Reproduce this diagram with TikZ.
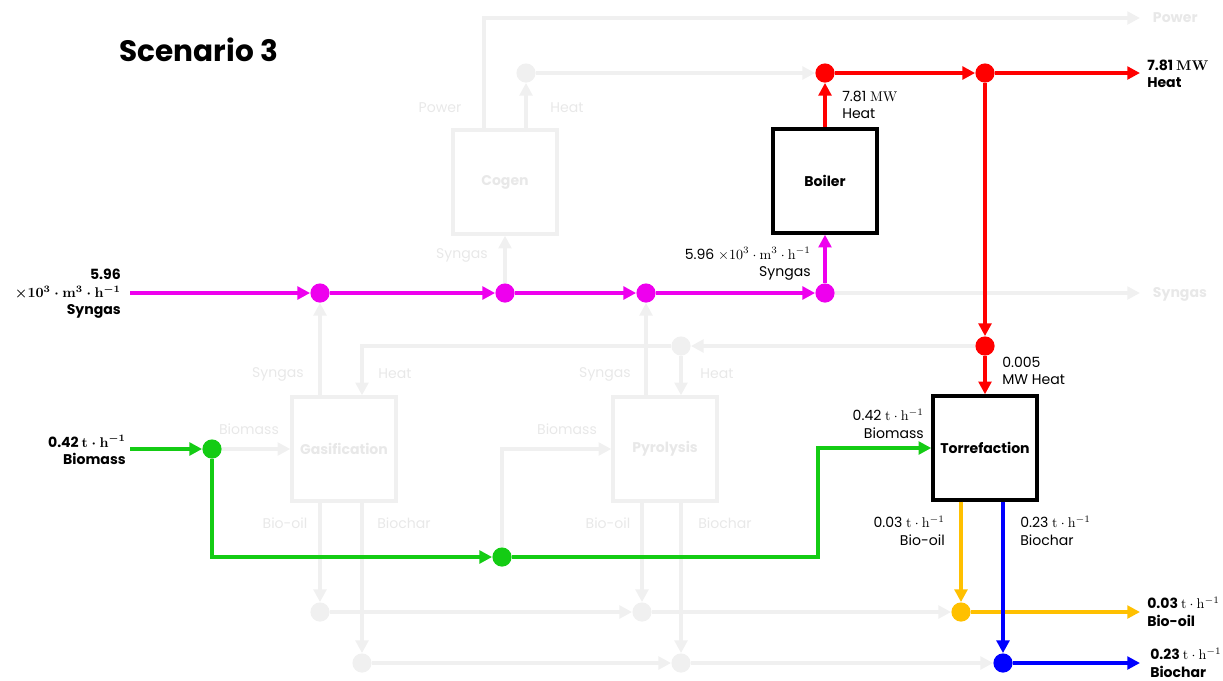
\documentclass[tikz,border=0pt]{standalone}
\usepackage{amsmath}
\usepackage[no-math]{fontspec}
\setmainfont{Poppins}
\usetikzlibrary{arrows.meta}
\definecolor{faded}{RGB}{240,240,240}
\definecolor{fadetext}{RGB}{232,232,232}
\definecolor{syngasc}{RGB}{238,0,238}
\definecolor{heatc}{RGB}{255,0,0}
\definecolor{biomassc}{RGB}{20,204,20}
\definecolor{biooilc}{RGB}{255,192,0}
\definecolor{biocharc}{RGB}{0,0,255}
\newcommand{\tph}{\ensuremath{\mathrm{t}\cdot\mathrm{h}^{-1}}}

\begin{document}
\begin{tikzpicture}[x=0.025cm, y=-0.025cm, >={Triangle[length=9pt, width=9pt]},
  font=\fontsize{10}{12.5}\selectfont,
  unit/.style={draw, line width=2.4pt, minimum width=2.6cm, minimum height=2.6cm,
    font=\bfseries\fontsize{10}{12.5}\selectfont},
  ghost/.style={unit, draw=faded, text=fadetext},
  dot/.style={circle, inner sep=0pt, minimum size=0.48cm, fill=#1},
  flow/.style={->, line width=2.4pt, draw=#1},
  glabel/.style={text=fadetext},
  lbl/.style={align=#1, inner sep=0pt}]
  \useasboundingbox (0,0) rectangle (1223,680);
  % --- title ---
  \node[font=\bfseries\fontsize{21}{24}\selectfont] (title) at (199,50) {Scenario 3};
  % --- process units ---
  \node[ghost] (cogen) at (505,182) {Cogen};
  \node[ghost] (gasif) at (344,449) {Gasification};
  \node[ghost] (pyro) at (665,449) {Pyrolysis};
  \node[unit] (boiler) at (825,181) {Boiler};
  \node[unit] (torr) at (985,448) {Torrefaction};
  % --- junctions ---
  \node[dot=syngasc] (s1) at (320,293) {};
  \node[dot=syngasc] (s2) at (505,293) {};
  \node[dot=syngasc] (s3) at (646,293) {};
  \node[dot=syngasc] (s4) at (825,293) {};
  \node[dot=faded] (h1) at (526,73) {};
  \node[dot=heatc] (h2) at (825,73) {};
  \node[dot=heatc] (h3) at (985,73) {};
  \node[dot=heatc] (h4) at (985,346) {};
  \node[dot=faded] (h5) at (681,346) {};
  \node[dot=biomassc] (b1) at (212,449) {};
  \node[dot=biomassc] (b2) at (502,557) {};
  \node[dot=faded] (o1) at (320,612) {};
  \node[dot=faded] (o2) at (642,612) {};
  \node[dot=biooilc] (o3) at (961,612) {};
  \node[dot=faded] (c1) at (362,663) {};
  \node[dot=faded] (c2) at (681,663) {};
  \node[dot=biocharc] (c3) at (1003,663) {};
  % --- free ends ---
  \coordinate (sin) at (130,293);
  \coordinate (bin) at (130,449);
  \coordinate (pwrup) at (484,18);
  \coordinate (pwrout) at (1140,18);
  \coordinate (hout) at (1140,73);
  \coordinate (sout) at (1140,293);
  \coordinate (oout) at (1140,612);
  \coordinate (cout) at (1140,663);
  \coordinate (gheat) at (362,346);
  \coordinate (tturn) at (818,557);
  % --- inactive streams ---
  \draw[flow=faded] (pwrup |- cogen.north) -- (pwrup) -- (pwrout);
  \draw[flow=faded] (h1 |- cogen.north) -- (h1);
  \draw[flow=faded] (h1) -- (h2);
  \draw[flow=faded] (s2) -- (s2 |- cogen.south);
  \draw[flow=faded] (s4) -- (sout);
  \draw[flow=faded] (s1 |- gasif.north) -- (s1);
  \draw[flow=faded] (s3 |- pyro.north) -- (s3);
  \draw[flow=faded] (h4) -- (h5);
  \draw[flow=faded] (h5) -- (h5 |- pyro.north);
  \draw[flow=faded] (h5) -- (gheat) -- (gheat |- gasif.north);
  \draw[flow=faded] (b1) -- (gasif);
  \draw[flow=faded] (b2) |- (pyro);
  \draw[flow=faded] (o1 |- gasif.south) -- (o1);
  \draw[flow=faded] (c1 |- gasif.south) -- (c1);
  \draw[flow=faded] (o2 |- pyro.south) -- (o2);
  \draw[flow=faded] (c2 |- pyro.south) -- (c2);
  \draw[flow=faded] (o1) -- (o2);
  \draw[flow=faded] (o2) -- (o3);
  \draw[flow=faded] (c1) -- (c2);
  \draw[flow=faded] (c2) -- (c3);
  % --- syngas ---
  \draw[flow=syngasc] (sin) -- (s1);
  \draw[flow=syngasc] (s1) -- (s2);
  \draw[flow=syngasc] (s2) -- (s3);
  \draw[flow=syngasc] (s3) -- (s4);
  \draw[flow=syngasc] (s4) -- (boiler);
  % --- heat ---
  \draw[flow=heatc] (boiler) -- (h2);
  \draw[flow=heatc] (h2) -- (h3);
  \draw[flow=heatc] (h3) -- (hout);
  \draw[flow=heatc] (h3) -- (h4);
  \draw[flow=heatc] (h4) -- (torr);
  % --- biomass ---
  \draw[flow=biomassc] (bin) -- (b1);
  \draw[flow=biomassc] (b1) |- (b2);
  \draw[flow=biomassc] (b2) -- (tturn) |- (torr);
  % --- products ---
  \draw[flow=biooilc] (o3 |- torr.south) -- (o3);
  \draw[flow=biooilc] (o3) -- (oout);
  \draw[flow=biocharc] (c3 |- torr.south) -- (c3);
  \draw[flow=biocharc] (c3) -- (cout);
  % --- faded labels ---
  \node[glabel] (lpwr) at (440,108) {Power};
  \node[glabel] (lcheat) at (567,108) {Heat};
  \node[glabel] (lcsyn) at (462,255) {Syngas};
  \node[glabel] (lgsyn) at (278,374) {Syngas};
  \node[glabel] (lgheat) at (395,374) {Heat};
  \node[glabel] (lgbio) at (249,429) {Biomass};
  \node[glabel] (lgoil) at (285,523) {Bio-oil};
  \node[glabel] (lgchar) at (404,523) {Biochar};
  \node[glabel] (lpsyn) at (605,374) {Syngas};
  \node[glabel] (lpheat) at (717,374) {Heat};
  \node[glabel] (lpbio) at (567,429) {Biomass};
  \node[glabel] (lpoil) at (608,523) {Bio-oil};
  \node[glabel] (lpchar) at (725,523) {Biochar};
  \node[glabel, anchor=west] (lsout) at (1148,294) {\bfseries Syngas};
  \node[glabel, anchor=west] (lpout) at (1148,18) {\bfseries Power};
  % --- stream labels ---
  \node[lbl=right, anchor=east, font=\bfseries\boldmath\fontsize{10}{12.5}\selectfont] (lsin) at (121,294)
       {5.96\\$\times10^{3}\cdot\mathrm{m}^{3}\cdot\mathrm{h}^{-1}$\\Syngas};
  \node[lbl=right, anchor=east, font=\bfseries\boldmath\fontsize{10}{12.5}\selectfont] (lbin) at (126,450)
       {0.42 \tph\\Biomass};
  \node[lbl=left, anchor=west] (lbheat) at (842,105) {7.81 $\mathrm{MW}$\\Heat};
  \node[lbl=right, anchor=east] (lbsyn) at (811,264)
       {5.96 $\times10^{3}\cdot\mathrm{m}^{3}\cdot\mathrm{h}^{-1}$\\Syngas};
  \node[lbl=left, anchor=west] (ltheat) at (1002,371) {0.005\\MW Heat};
  \node[lbl=right, anchor=east] (ltbio) at (924,424) {0.42 \tph\\Biomass};
  \node[lbl=right, anchor=east] (ltoil) at (945,531) {0.03 \tph\\Bio-oil};
  \node[lbl=left, anchor=west] (ltchar) at (1020,531) {0.23 \tph\\Biochar};
  \node[lbl=left, anchor=west, font=\bfseries\boldmath\fontsize{10}{12.5}\selectfont] (lhout) at (1147,74)
       {7.81 $\mathrm{MW}$\\Heat};
  \node[lbl=left, anchor=west, font=\bfseries\fontsize{10}{12.5}\selectfont] (loout) at (1147,612)
       {0.03 {\mdseries\unboldmath\tph}\\Bio-oil};
  \node[lbl=left, anchor=west, font=\bfseries\fontsize{10}{12.5}\selectfont] (lcout) at (1150,663)
       {0.23 {\mdseries\unboldmath\tph}\\Biochar};
\end{tikzpicture}
\end{document}
